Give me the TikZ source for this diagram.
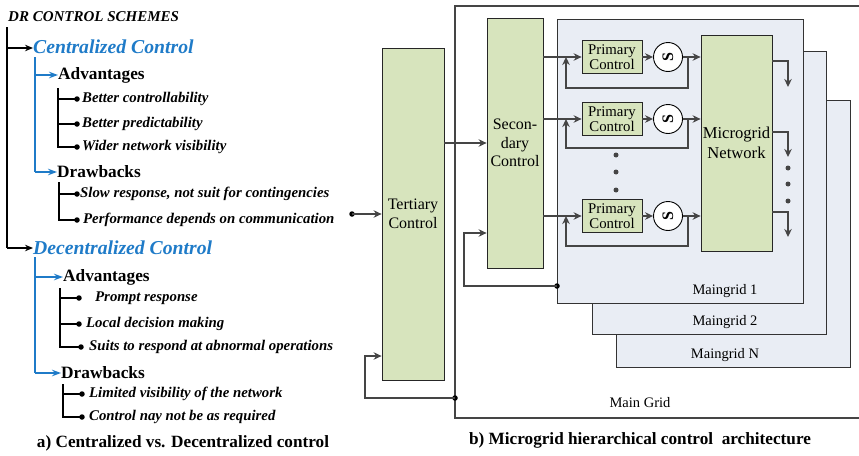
\documentclass[tikz,border=0pt]{standalone}
\usepackage{fontspec}
\setmainfont{Liberation Serif}
\usetikzlibrary{arrows.meta,calc}
\definecolor{gfill}{HTML}{D7E4BD}
\definecolor{bfill}{HTML}{E9EDF4}
\definecolor{ablue}{HTML}{1F7BC8}
\definecolor{agray}{HTML}{454545}
\begin{document}
\begin{tikzpicture}[x=1pt,y=-1pt,
  gbox/.style={draw=black!85,fill=gfill,line width=0.8pt,inner sep=0pt,align=center},
  bbox/.style={draw=black!80,fill=bfill,line width=0.8pt},
  arr/.style={draw=agray,line width=1.6pt,-{Stealth[length=8pt,width=7.5pt]}},
  blk/.style={draw=black,line width=2pt},
  blkarr/.style={blk,-{Stealth[length=8pt,width=6.5pt]}},
  bl/.style={draw=ablue,line width=1.4pt},
  blarr/.style={bl,-{Stealth[length=9pt,width=6.5pt]}},
  itl/.style={draw=black,line width=1.4pt},
  dotc/.style={fill=black,circle,inner sep=0pt,minimum size=5.5pt},
  gdot/.style={fill=agray,circle,inner sep=0pt,minimum size=5pt},
  ttl/.style={anchor=west,inner sep=0pt,font=\fontsize{15}{17}\selectfont\bfseries\itshape},
  head/.style={anchor=west,inner sep=0pt,text=ablue,font=\fontsize{19.7}{21}\selectfont\bfseries\itshape},
  sub/.style={anchor=west,inner sep=0pt,font=\fontsize{17.3}{19}\selectfont\bfseries},
  itm/.style={anchor=west,inner sep=0pt,font=\fontsize{14.8}{16}\selectfont\bfseries\itshape},
  captxt/.style={inner sep=0pt,font=\fontsize{17.2}{19}\selectfont\bfseries},
  lbl/.style={inner sep=0pt,font=\fontsize{14.5}{16}\selectfont},
  big/.style={font=\fontsize{16}{18.5}\selectfont},
  prim/.style={gbox,minimum width=60pt,minimum height=33pt,font=\fontsize{14.8}{15}\selectfont},
  sw/.style={draw=black,fill=white,circle,line width=0.9pt,minimum size=29pt,inner sep=0pt,font=\fontsize{16}{16}\selectfont\bfseries}
]
\useasboundingbox (0,0) rectangle (859,455);

% ===================== left part =====================
\node[ttl] (title) at (8,17) {DR CONTROL SCHEMES};
\node[head] (cc) at (33,47) {Centralized Control};
\node[head] (dc) at (33,248) {Decentralized Control};
\coordinate (t0) at (7,27);
\draw[blk] (t0) -- (7,248);
\draw[blkarr] (7,48) -- (cc.west |- 7,48);
\draw[blkarr] (7,248) -- (dc.west);

% centralized
\node[sub] (ca) at (58,75) {Advantages};
\node[sub] (cd) at (57,172) {Drawbacks};
\draw[bl] (35,57) -- (35,172);
\draw[blarr] (35,75) -- (ca.west);
\draw[blarr] (35,172) -- (cd.west);

\node[itm] (ca1) at (82,99) {Better controllability};
\node[itm] (ca2) at (82,124) {Better predictability};
\node[itm] (ca3) at (82,147) {Wider network visibility};
\draw[itl] (58,88) -- (58,147) -- (77,147);
\draw[itl] (58,99) -- (77,99);
\draw[itl] (58,124) -- (77,124);
\node[dotc] at (77,99) {};
\node[dotc] at (77,124) {};
\node[dotc] at (77,147) {};

\node[itm] (cd1) at (80,194) {Slow response, not suit for contingencies};
\node[itm] (cd2) at (83,220) {Performance depends on communication};
\draw[itl] (59,182) -- (59,220) -- (77,220);
\draw[itl] (59,194) -- (77,194);
\node[dotc] at (77,194) {};
\node[dotc] at (77,220) {};

% decentralized
\node[sub] (da) at (63,277) {Advantages};
\node[sub] (dd) at (61,373) {Drawbacks};
\draw[bl] (35,257) -- (35,373);
\draw[blarr] (35,277) -- (da.west);
\draw[blarr] (35,373) -- (dd.west);

\node[itm] (da1) at (95,298) {Prompt response};
\node[itm] (da2) at (86,324) {Local decision making};
\node[itm] (da3) at (89,347) {Suits to respond at abnormal operations};
\draw[itl] (60,288) -- (60,347) -- (81,347);
\draw[itl] (60,298) -- (79,298);
\draw[itl] (60,324) -- (79,324);
\node[dotc] at (79,298) {};
\node[dotc] at (79,324) {};
\node[dotc] at (81,347) {};

\node[itm] (dd1) at (89,394) {Limited visibility of the network};
\node[itm] (dd2) at (89,417) {Control nay not be as required};
\draw[itl] (63,384) -- (63,417) -- (82,417);
\draw[itl] (63,394) -- (82,394);
\node[dotc] at (82,394) {};
\node[dotc] at (82,417) {};

\node[captxt] (capa) at (183,443) {a) Centralized vs. Decentralized control};

% ===================== right part =====================
% main grid frame
\draw[draw=agray,line width=1.1pt] (859,6) -- (455,6) -- (455,418) -- (859,418);
\node[lbl] (mgl) at (640,403) {Main Grid};

% maingrid boxes
\draw[bbox] (616,100) rectangle (850,367);
\node[lbl] (mgN) at (725,355) {Maingrid N};
\draw[bbox] (592,51) rectangle (826,334);
\node[lbl] (mg2) at (725,322) {Maingrid 2};
\draw[bbox] (557,19) rectangle (803,303);
\node[lbl] (mg1) at (725,291) {Maingrid 1};

% control blocks
\node[gbox,big,minimum width=62pt,minimum height=332pt] (ter) at (413,214) {Tertiary\\Control};
\node[gbox,big,minimum width=56pt,minimum height=250pt] (sec) at (515,143) {Secon-\\dary\\Control};
\node[gbox,minimum width=71pt,minimum height=216pt,font=\fontsize{16.6}{20}\selectfont] (net) at (736.5,143) {Microgrid\\Network};

\node[prim] (p1) at (612,57) {Primary\\Control};
\node[prim] (p2) at (612,119) {Primary\\Control};
\node[prim] (p3) at (612,216) {Primary\\Control};
\node[sw] (s1) at (668,57) {\rotatebox{90}{S}};
\node[sw] (s2) at (668,119) {\rotatebox{90}{S}};
\node[sw] (s3) at (668,216) {\rotatebox{90}{S}};

% input and tertiary -> secondary
\coordinate (in) at (352,214);
\node[dotc] at (in) {};
\draw[arr] (in) -- (ter.west);
\draw[arr] (ter.east |- sec.west) -- (sec.west);

% feedback to tertiary
\coordinate (fbt) at (455,398);
\node[dotc] at (fbt) {};
\draw[arr] (fbt) -- (365,398) -- (365,356) -- (ter.west |- 0,356);

% feedback to secondary
\coordinate (fbs) at (557,286);
\node[dotc] at (fbs) {};
\draw[arr] (fbs) -- (464,286) -- (464,233) -- (sec.west |- 0,233);

% primary loops
\foreach \p/\s/\y/\b in {p1/s1/57/88, p2/s2/119/148, p3/s3/216/246}{
  \draw[arr] (sec.east |- \p.west) -- (\p.west);
  \draw[arr] (\p.east) -- (\s.west);
  \draw[arr] (\s.east) -- (net.west |- \s.east);
  \draw[arr] (688,\y) -- (688,\b) -- (566,\b) -- (566,\y);
}
% vertical dots between primaries
\foreach \y in {155,172,190}{ \node[gdot] at (616,\y) {}; }

% microgrid outputs
\foreach \y/\e in {61/87, 132/157, 212/237}{
  \draw[arr] (net.east |- 0,\y) -- (788,\y) -- (788,\e);
}
\foreach \y in {168,184,201}{ \node[gdot] at (788,\y) {}; }

\node[captxt] (capb) at (640,440) {b) Microgrid hierarchical control\ \ architecture};
\end{tikzpicture}
\end{document}
